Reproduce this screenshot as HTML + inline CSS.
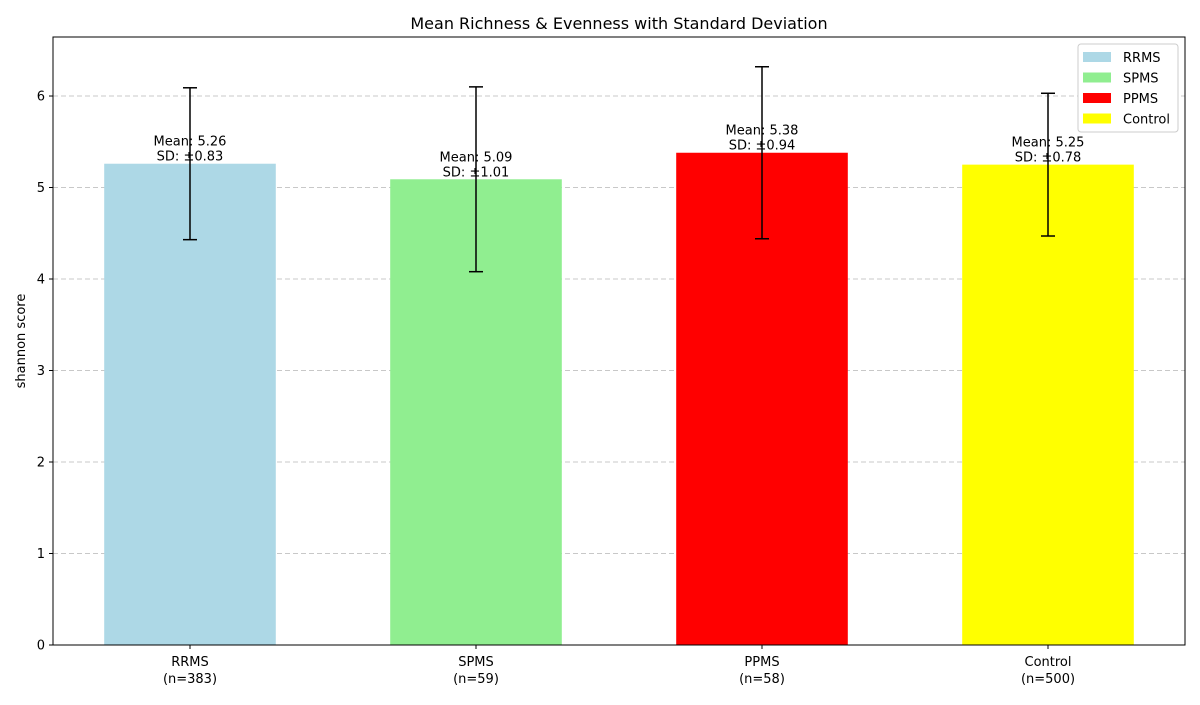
<!DOCTYPE html>
<html><head><meta charset="utf-8"><style>
body{margin:0;background:#fff;font-family:"Liberation Sans","DejaVu Sans",sans-serif;}
svg text{font-family:"DejaVu Sans","Liberation Sans",sans-serif;}
</style></head><body>
<svg id="chart" width="1200" height="700"></svg>
<script>
const categories=["RRMS","SPMS","PPMS","Control"];
const counts=[383,59,58,500];
const means=[5.26,5.09,5.38,5.25];
const sds=[0.83,1.01,0.94,0.78];
const colors=["#add8e6","#90ee90","#ff0000","#ffff00"];
const yTicks=[0,1,2,3,4,5,6];
const L=53,R=1185,T=37,B=645,yMax=6.645,xMin=-0.479,xMax=3.479;
const NS="http://www.w3.org/2000/svg";
const svg=document.getElementById('chart');
function y(v){return B-(v/yMax)*(B-T);}
function x(i){return L+(i-xMin)/(xMax-xMin)*(R-L);}
function mk(t,a,p){const e=document.createElementNS(NS,t);for(const k in a)e.setAttribute(k,a[k]);(p||svg).appendChild(e);return e;}
const title=mk('text',{x:619,y:29,'text-anchor':'middle','font-size':16,fill:'#000'});title.textContent="Mean Richness & Evenness with Standard Deviation";


yTicks.forEach(t=>{
 if(t>0){const g=mk('line',{x1:L,x2:R,y1:y(t),y2:y(t),stroke:'#c8c8c8','stroke-dasharray':'5,3','stroke-width':1});
 
 }
 mk('line',{x1:L-4,x2:L,y1:y(t),y2:y(t),stroke:'#000'});
 const tl=mk('text',{x:L-8,y:y(t)+4.5,'text-anchor':'end','font-size':13});tl.textContent=t;
 
 
});
const w=0.6*(R-L)/(xMax-xMin);
categories.forEach((c,i)=>{
 const cx=x(i);
 const b=mk('rect',{x:cx-w/2,y:y(means[i]),width:w,height:B-y(means[i]),fill:colors[i]});
 
 
 const t1=y(means[i]+sds[i]),t2=y(means[i]-sds[i]);
 const eb=mk('g',{stroke:'#000','stroke-width':1.5});
 
 
 mk('line',{x1:cx,x2:cx,y1:t1,y2:t2},eb);
 mk('line',{x1:cx-7,x2:cx+7,y1:t1,y2:t1},eb);
 mk('line',{x1:cx-7,x2:cx+7,y1:t2,y2:t2},eb);
 const l1=mk('text',{x:cx,y:y(means[i])-18,'text-anchor':'middle','font-size':13});l1.textContent="Mean: "+means[i].toFixed(2);
 
 
 const l2=mk('text',{x:cx,y:y(means[i])-3,'text-anchor':'middle','font-size':13});l2.textContent="SD: ±"+sds[i].toFixed(2);
 
 
 mk('line',{x1:cx,x2:cx,y1:B,y2:B+4,stroke:'#000'});
 const xl=mk('text',{x:cx,y:666,'text-anchor':'middle','font-size':13});xl.textContent=c;
 
 
 const xn=mk('text',{x:cx,y:683,'text-anchor':'middle','font-size':13});xn.textContent="(n="+counts[i]+")";
 
 
});
const fr=mk('rect',{x:L,y:T,width:R-L,height:B-T,fill:'none',stroke:'#000','stroke-width':1});


const yt=mk('text',{x:0,y:0,'text-anchor':'middle','font-size':13,transform:'translate(25,'+((T+B)/2)+') rotate(-90)'});yt.textContent="shannon score";


const lg=mk('g',{});


mk('rect',{x:1078,y:44,width:100,height:88,fill:'#fff',stroke:'#ccc',rx:3},lg);
categories.forEach((c,i)=>{
 const ly=52+i*20.5;
 const e=mk('g',{},lg);
 
 
 mk('rect',{x:1083,y:ly,width:28,height:10,fill:colors[i]},e);
 const t=mk('text',{x:1123,y:ly+10,'font-size':13},e);t.textContent=c;
});
</script>
</body></html>
